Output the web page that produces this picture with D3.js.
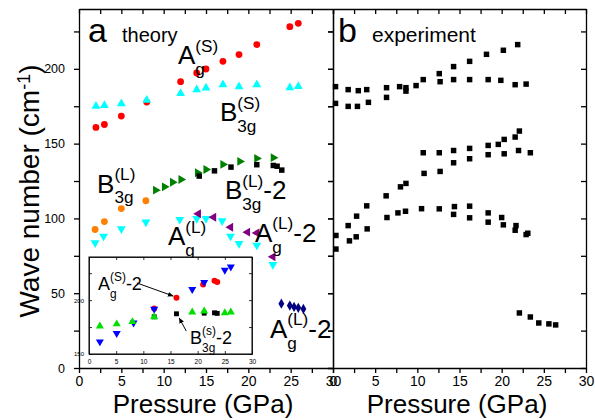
<!DOCTYPE html>
<html lang="en">
<head>
    <meta charset="UTF-8">
    <title>Raman modes vs pressure</title>
    <script src="https://d3js.org/d3.v7.min.js"></script>
    <style>
        body, html {
            margin: 0;
            padding: 0;
            overflow: hidden;
            background: #fff;
        }
        svg {
            display: block;
            font-family: "Liberation Sans", Arial, sans-serif;
        }
        .axis path, .axis line {
            stroke: #000;
            stroke-width: 1.3px;
        }
        .axis text {
            font-family: "Liberation Sans", Arial, sans-serif;
            fill: #000;
        }
    </style>
</head>
<body>
    <svg width="595" height="420" id="chart"></svg>

    <script>
        // ---- theory (panel a) ----
        const agSP = [2, 3, 5, 8, 12, 13.9, 15, 17, 18.9, 21, 24.9, 25.9];
        const agSW = [160.8, 162.8, 168.4, 177.8, 191.4, 197.2, 199.9, 205, 209.5, 216.2, 228.2, 230.4];
        const b3gSP = [2, 3, 5, 8, 12, 13.9, 15, 17, 18.9, 21, 24.9, 25.9];
        const b3gSW = [175.1, 175.6, 176.7, 179.1, 183.6, 186.1, 187.2, 189.4, 188.1, 189.4, 187.4, 188.3];
        const b3gLP = [1.9, 3, 5, 7.9];
        const b3gLW = [92.6, 97.9, 106.6, 111.8];
        const greenP = [9.05, 10.1, 11.05, 12.05, 14, 15, 17, 19, 21, 22.95];
        const greenW = [118.9, 121.1, 124.2, 126, 130.5, 132.7, 136.1, 138.1, 140.1, 140.6];
        const b3gL2P = [14.2, 16, 17.95, 21, 22.95, 23.4, 23.95];
        const b3gL2W = [128.3, 131.8, 134.3, 135.9, 135.4, 134.9, 132.3];
        const agLP = [1.9, 2.9, 5, 7.9, 11.9, 13.9, 15, 16.9, 17.9, 18.9, 21, 22.9];
        const agLW = [83.7, 88.1, 93, 97.5, 99.3, 99.9, 99.9, 98.4, 88.1, 83.2, 82.1, 69.1];
        const agL2P = [14.1, 15.9, 17.9, 19.9, 21, 22.9];
        const agL2W = [103.1, 100.8, 94.1, 90.8, 90.3, 74.3];
        const navyP = [23.9, 24.9, 25.4, 25.9, 26.5];
        const navyW = [43, 41.7, 40.8, 40.2, 39.5];

        // ---- inset ----
        const insRedP = [12, 16.1, 21, 23.1, 23.6];
        const insRedW = [192.3, 202.1, 214.5, 217.9, 216.7];
        const insBlackP = [12, 16.1, 21.2, 23.1, 23.6];
        const insBlackW = [184.5, 187.3, 187.9, 188.2, 187.7];
        const insBlueP = [2, 5.1, 8.2, 12, 19, 21.2, 25, 26.1];
        const insBlueW = [161.4, 169.2, 179, 191.7, 209.9, 216.4, 227.8, 230.8];
        const insGreenP = [2, 5.1, 8, 12, 19, 21.2, 25, 26.1];
        const insGreenW = [175.9, 177.8, 179.9, 184.5, 188.9, 189.8, 188.2, 188.9];

        // ---- experiment (panel b) ----
        const expP = [0.3, 1.8, 3.0, 4.0, 6.35, 7.9, 8.65, 8.65, 9.85, 10.7, 12.6, 14.3, 16.2, 18.2, 20.2, 21.9,
            12.7, 14.3, 16.2, 18.4, 19.9, 21.6, 22.9,
            0.3, 1.8, 2.9, 4.2, 6.35,
            10.7, 12.6, 14.3, 16.2, 18.4, 19.6, 20.3, 21.6, 22.1,
            10.8, 12.7, 14.3, 16.2, 18.4, 20.3, 22.0, 23.4,
            6.3, 8.0, 8.65,
            0.35, 0.35, 1.8, 1.95, 2.8, 2.75, 4.0, 4.05, 6.4, 7.7, 8.6, 10.5, 12.6, 14.4, 14.3, 16.2, 16.2,
            18.4, 18.4, 20.0, 20.2, 21.7, 21.6, 22.9, 23.1,
            22.1, 23.4, 24.4, 25.6, 26.4];
        const expW = [188.1, 186.1, 185.4, 186.1, 187.4, 188.1, 187.4, 185.1, 188.8, 192.8, 196.8, 201.5, 205, 209.7, 212.4, 216.2,
            191.4, 192.8, 192.8, 192.8, 192.3, 189.4, 189.8,
            176.9, 174.9, 174.9, 177.6, 180.9,
            143.9, 143.9, 145.4, 146.8, 148.8, 149.5, 152.8, 154.4, 158.4,
            130.1, 131.4, 137.2, 139.9, 142.6, 143.2, 145.4, 143.9,
            115.1, 121.1, 123.4,
            88.6, 79.5, 95.2, 85.0, 101.5, 87.7, 108.4, 93, 100.6, 103.7, 104.8, 106.5, 106.4, 107.9, 102.7, 108.2, 100.4,
            103.7, 97.5, 100.6, 95.7, 95.2, 92.1, 89.2, 90.1,
            36.8, 34.1, 30.1, 29.5, 28.8];

        const xTicks = d3.range(0, 30.01, 2.5);
        const xLabels = [0, 5, 10, 15, 20, 25, 30];
        const yTicks = d3.range(0, 240.01, 25);
        const yLabels = [0, 50, 100, 150, 200];

        const svg = d3.select("#chart");
        svg.append("rect").attr("width", 595).attr("height", 420).attr("fill", "#fff");

        const xa = d3.scaleLinear().domain([0, 30]).range([79, 333]);
        const xb = d3.scaleLinear().domain([0, 30]).range([333, 586]);
        const y = d3.scaleLinear().domain([0, 240]).range([368, 9]);
        const xi = d3.scaleLinear().domain([0, 30]).range([89, 252]);
        const yi = d3.scaleLinear().domain([150, 240]).range([354, 257]);

        const zip = (a, b) => a.map((v, i) => [v, b[i]]);
        const tick = 5;

        function frame(xs, leftLabels) {
            svg.append("g").attr("class", "axis")
                .attr("transform", "translate(0,368)")
                .call(d3.axisBottom(xs).tickValues(xTicks).tickSize(tick).tickSizeOuter(0).tickPadding(3)
                    .tickFormat(d => xLabels.includes(d) ? d : ""))
                .selectAll("text").style("font-size", "14px");
            svg.append("g").attr("class", "axis")
                .attr("transform", "translate(0,9)")
                .call(d3.axisTop(xs).tickValues(xTicks).tickSize(-tick).tickSizeOuter(0).tickFormat(""));
            const l = svg.append("g").attr("class", "axis")
                .attr("transform", `translate(${xs.range()[0]},0)`)
                .call(d3.axisLeft(y).tickValues(yTicks).tickSize(tick).tickSizeOuter(0).tickPadding(9)
                    .tickFormat(d => leftLabels && yLabels.includes(d) ? d : ""));
            l.selectAll("text").style("font-size", "12.5px");
            svg.append("g").attr("class", "axis")
                .attr("transform", `translate(${xs.range()[1]},0)`)
                .call(d3.axisRight(y).tickValues(yTicks).tickSize(-tick).tickSizeOuter(0).tickFormat(""));
        }
        frame(xa, true);
        frame(xb, false);

        const sym = (type, size) => d3.symbol().type(type).size(size)();

        function points(xs, ys, P, W, shape, color, size, rot) {
            const g = svg.append("g");
            if (shape === "circle") {
                g.selectAll("circle").data(zip(P, W)).join("circle")
                    .attr("cx", d => xs(d[0])).attr("cy", d => ys(d[1]))
                    .attr("r", size).attr("fill", color);
            } else {
                g.selectAll("path").data(zip(P, W)).join("path")
                    .attr("d", sym(shape, size))
                    .attr("transform", d => `translate(${xs(d[0])},${ys(d[1])}) rotate(${rot || 0})`)
                    .attr("fill", color);
            }
        }

        // panel a markers
        points(xa, y, agSP, agSW, "circle", "#ff0000", 3.4);
        points(xa, y, b3gSP, b3gSW, d3.symbolTriangle, "#00ffff", 34, 0);
        points(xa, y, b3gLP, b3gLW, "circle", "#ff8000", 3.4);
        points(xa, y, greenP, greenW, d3.symbolTriangle, "#008000", 34, 90);
        points(xa, y, b3gL2P, b3gL2W, d3.symbolSquare, "#000000", 30);
        points(xa, y, agLP, agLW, d3.symbolTriangle, "#00ffff", 34, 180);
        points(xa, y, agL2P, agL2W, d3.symbolTriangle, "#800080", 34, -90);
        points(xa, y, navyP, navyW, d3.symbolDiamond, "#000080", 30);

        // panel b markers
        points(xb, y, expP, expW, d3.symbolSquare, "#000000", 30);

        // subscript / superscript label helper
        function label(x, yy, main, sub, sup, tail, size) {
            const g = svg.append("g").style("font-size", size + "px");
            const m = g.append("text").attr("x", x).attr("y", yy).text(main);
            const w = m.node().getComputedTextLength();
            const small = size * 0.66;
            let w2 = 0;
            if (sup) {
                const t = g.append("text").attr("x", x + w).attr("y", yy - size * 0.48)
                    .style("font-size", small + "px").text(sup);
                w2 = Math.max(w2, t.node().getComputedTextLength());
            }
            if (sub) {
                const t = g.append("text").attr("x", x + w).attr("y", yy + size * 0.42)
                    .style("font-size", small + "px").text(sub);
                w2 = Math.max(w2, t.node().getComputedTextLength());
            }
            if (tail) g.append("text").attr("x", x + w + w2).attr("y", yy).text(tail);
        }

        // panel letters
        svg.append("text").attr("x", 88).attr("y", 42).style("font-size", "34px").text("a");
        svg.append("text").attr("x", 122).attr("y", 42).style("font-size", "20px").text("theory");
        svg.append("text").attr("x", 338).attr("y", 42).style("font-size", "34px").text("b");
        svg.append("text").attr("x", 372).attr("y", 42).style("font-size", "21px").text("experiment");

        // mode labels
        label(xa(11.69), y(203), "A", "g", "(S)", "", 26);
        label(xa(16.65), y(164.9), "B", "3g", "(S)", "", 26);
        label(xa(2.13), y(117.3), "B", "3g", "(L)", "", 26);
        label(xa(17.24), y(112.7), "B", "3g", "(L)", "-2", 26);
        label(xa(10.51), y(81.9), "A", "g", "(L)", "", 26);
        label(xa(20.79), y(84.5), "A", "g", "(L)", "-2", 26);
        label(xa(22.56), y(20.3), "A", "g", "(L)", "-2", 26);

        // inset
        svg.append("rect").attr("x", 89).attr("y", 257).attr("width", 163).attr("height", 97)
            .attr("fill", "#fff").attr("stroke", "#000").attr("stroke-width", 1);
        const ia = svg.append("g").attr("class", "axis").style("font-size", "6px");
        ia.append("g").attr("transform", "translate(0,354)")
            .call(d3.axisBottom(xi).tickValues(d3.range(0, 30.01, 5)).tickSize(-3).tickPadding(5).tickSizeOuter(0))
            .selectAll("text").style("font-size", "6.5px");
        ia.append("g").attr("transform", "translate(0,257)")
            .call(d3.axisTop(xi).tickValues(d3.range(0, 30.01, 5)).tickSize(-3).tickSizeOuter(0).tickFormat(""));
        ia.append("g").attr("transform", "translate(89,0)")
            .call(d3.axisLeft(yi).tickValues([150, 175, 200, 225]).tickSize(-3).tickPadding(5).tickSizeOuter(0)
                .tickFormat(d => d % 50 === 0 ? d : ""))
            .selectAll("text").style("font-size", "6px");
        ia.append("g").attr("transform", "translate(252,0)")
            .call(d3.axisRight(yi).tickValues([150, 175, 200, 225]).tickSize(-3).tickSizeOuter(0).tickFormat(""));
        ia.selectAll("path, line").style("stroke-width", "0.8px");

        points(xi, yi, insRedP, insRedW, "circle", "#ff0000", 3);
        points(xi, yi, insBlackP, insBlackW, d3.symbolSquare, "#000000", 24);
        points(xi, yi, insBlueP, insBlueW, d3.symbolTriangle, "#0000ff", 28, 180);
        points(xi, yi, insGreenP, insGreenW, d3.symbolTriangle, "#00e000", 28, 0);

        label(xi(1.66), yi(209.4), "A", "g", "(S)", "-2", 18);
        label(xi(18.6), yi(159.3), "B", "3g", "(s)", "-2", 18);

        svg.append("defs").append("marker").attr("id", "ah")
            .attr("viewBox", "0 0 10 10").attr("refX", 9).attr("refY", 5)
            .attr("markerWidth", 6).attr("markerHeight", 6).attr("orient", "auto")
            .append("path").attr("d", "M0,1 L10,5 L0,9 Z").attr("fill", "#000");
        svg.append("line").attr("x1", xi(8.8)).attr("y1", yi(215.9)).attr("x2", xi(15.5)).attr("y2", yi(203.8))
            .attr("stroke", "#000").attr("stroke-width", 1).attr("marker-end", "url(#ah)");
        svg.append("line").attr("x1", xi(17.9)).attr("y1", yi(171.3)).attr("x2", xi(16.6)).attr("y2", yi(183.4))
            .attr("stroke", "#000").attr("stroke-width", 1).attr("marker-end", "url(#ah)");

        // axis titles
        const yt = svg.append("text").attr("transform", "translate(39,191) rotate(-90)")
            .attr("text-anchor", "middle").style("font-size", "28px");
        yt.append("tspan").text("Wave number (cm");
        yt.append("tspan").attr("dy", -9).style("font-size", "18px").text("-1");
        yt.append("tspan").attr("dy", 9).text(")");

        svg.append("text").attr("x", 203).attr("y", 413).attr("text-anchor", "middle")
            .style("font-size", "26px").text("Pressure (GPa)");
        svg.append("text").attr("x", 457).attr("y", 413).attr("text-anchor", "middle")
            .style("font-size", "26px").text("Pressure (GPa)");
    </script>
</body>
</html>
